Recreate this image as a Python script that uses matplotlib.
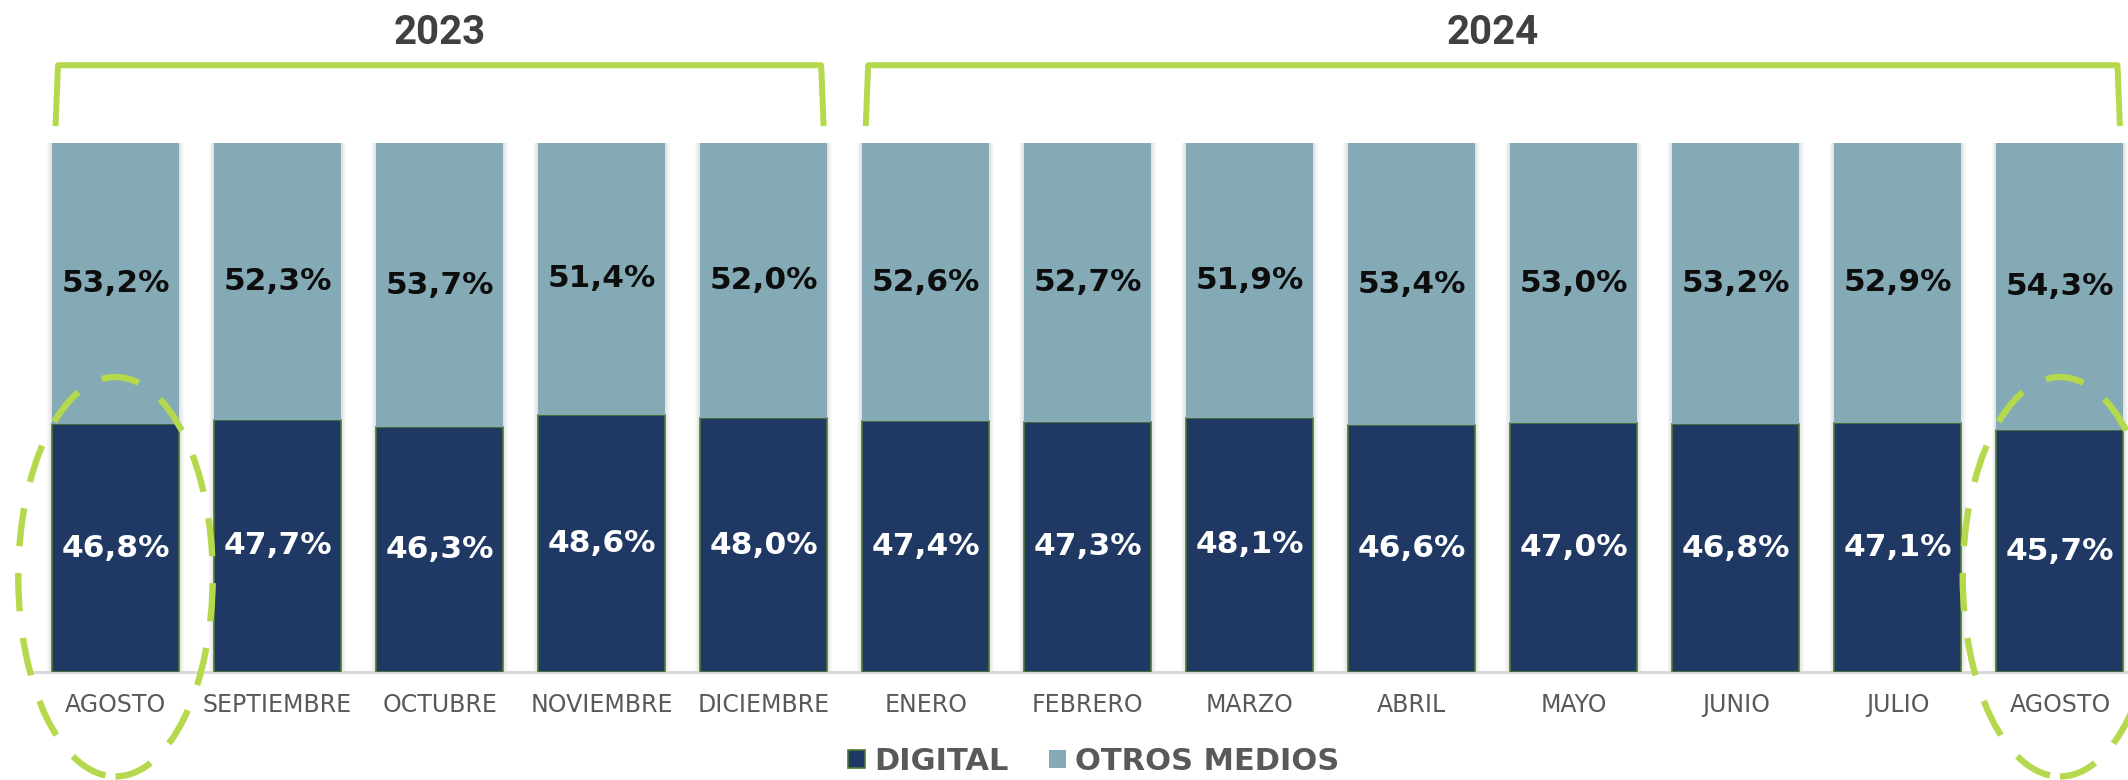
import matplotlib.pyplot as plt
from matplotlib.patches import Ellipse
import numpy as np

# datos
meses = ["AGOSTO", "SEPTIEMBRE", "OCTUBRE", "NOVIEMBRE", "DICIEMBRE", "ENERO", "FEBRERO",
         "MARZO", "ABRIL", "MAYO", "JUNIO", "JULIO", "AGOSTO"]
digital = [46.8, 47.7, 46.3, 48.6, 48.0, 47.4, 47.3, 48.1, 46.6, 47.0, 46.8, 47.1, 45.7]
otros = [53.2, 52.3, 53.7, 51.4, 52.0, 52.6, 52.7, 51.9, 53.4, 53.0, 53.2, 52.9, 54.3]
anios = ["2023", "2024"]
grupos = [(0, 4), (5, 12)]   # primer y ultimo indice de cada año
resaltados = [0, 12]         # meses marcados con elipse

C_DIG = "#203864"
C_OTR = "#84AAB5"
C_VERDE = "#B5D94C"
C_GRIS = "#595959"

plt.rcParams['font.family'] = ['DejaVu Sans']

fig = plt.figure(figsize=(21.28, 7.8), dpi=100)
ax = fig.add_axes([0.0162, 0.1385, 0.9899, 0.6782])

x = np.arange(len(meses))
ancho = 0.784

# sombra suave a los lados de cada barra
for k in range(1, 6):
    ax.bar(x, np.array(digital) + np.array(otros), width=ancho + 0.012 * k,
           color="black", alpha=0.025, linewidth=0, zorder=1)

ax.bar(x, digital, width=ancho, color=C_DIG, edgecolor="#4E7A34", linewidth=1.2,
       label="DIGITAL", zorder=3)
ax.bar(x, otros, bottom=digital, width=ancho, color=C_OTR, linewidth=0,
       label="OTROS MEDIOS", zorder=3)

for i in range(len(meses)):
    ax.text(x[i], digital[i] / 2, f"{digital[i]:.1f}%".replace(".", ","),
            ha="center", va="center", color="white", fontsize=22.5, fontweight="bold", zorder=5)
    ax.text(x[i], digital[i] + otros[i] / 2, f"{otros[i]:.1f}%".replace(".", ","),
            ha="center", va="center", color="#0D0D0D", fontsize=22.5, fontweight="bold", zorder=5)

ax.set_xlim(-0.5, len(meses) - 0.5)
ax.set_ylim(0, 100)
ax.set_xticks(x)
ax.set_xticklabels(meses, fontsize=17, color=C_GRIS)
ax.tick_params(axis="x", length=0, pad=15)
ax.set_yticks([])
for s in ["top", "left", "right"]:
    ax.spines[s].set_visible(False)
ax.spines["bottom"].set_color("#D9D9D9")
ax.spines["bottom"].set_linewidth(2.2)
ax.spines["bottom"].set_zorder(2)

# llaves de cada año
pad = 0.37
for anio, (i0, i1) in zip(anios, grupos):
    xs = [i0 - pad, i0 - pad + 0.015, i1 + pad - 0.015, i1 + pad]
    ys = [103.2, 114.7, 114.7, 103.2]
    ax.plot(xs, ys, color=C_VERDE, linewidth=4.3, solid_joinstyle="round",
            solid_capstyle="butt", clip_on=False, zorder=4)
    ax.text((i0 + i1) / 2, 120.8, anio, ha="center", va="center", fontsize=29,
            fontweight="bold", color="#404040",
            family=["Roboto", "DejaVu Sans"])

# elipses de comparacion
for i in resaltados:
    e = Ellipse((x[i], 18.0), width=1.2, height=75.5, fill=False, edgecolor=C_VERDE,
                linewidth=4.6, linestyle=(0, (6, 4.2)), clip_on=False, zorder=6)
    ax.add_patch(e)

fig.legend(loc="center", bbox_to_anchor=(0.514, 0.024), ncol=2, frameon=False,
           prop={"weight": "bold", "size": 22}, labelcolor=C_GRIS,
           handlelength=0.56, handleheight=0.56, handletextpad=0.3, columnspacing=1.3)

fig.savefig("out.png", dpi=100)
